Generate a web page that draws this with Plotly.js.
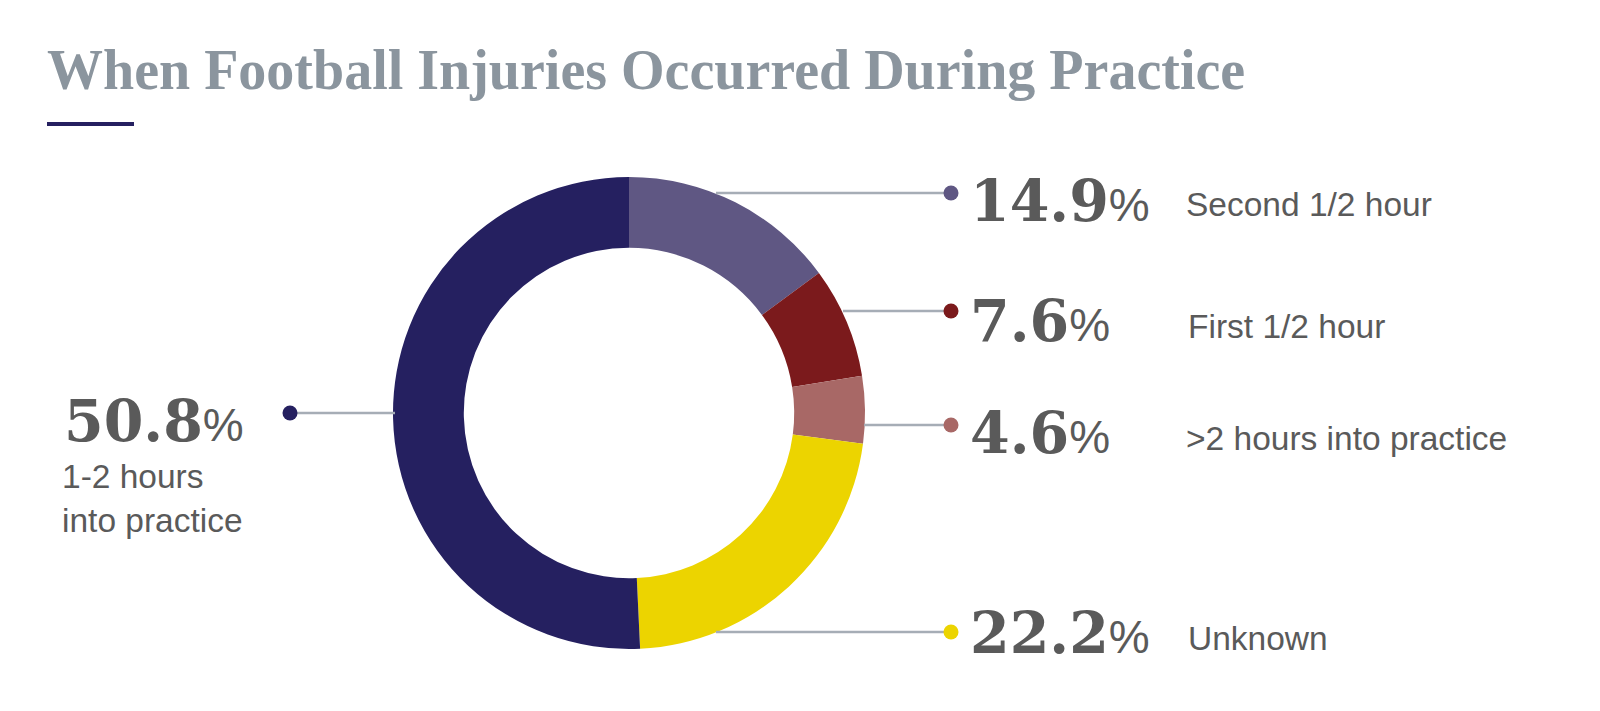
<!DOCTYPE html>
<html>
<head>
<meta charset="utf-8">
<script src="https://cdn.plot.ly/plotly-3.0.1.min.js"></script>
<style>
  html, body { margin: 0; padding: 0; background: #ffffff; }
  #chart { width: 1600px; height: 711px; }
</style>
</head>
<body>
<div id="chart"></div>
<script>
var W = 1600, H = 711;

// data, clockwise from 12 o'clock
var labels = ["Second 1/2 hour", "First 1/2 hour", ">2 hours into practice", "Unknown", "1-2 hours<br>into practice"];
var values = [14.9, 7.6, 4.6, 22.2, 50.8];
var colors = ["#5f5783", "#7b1a1c", "#a86866", "#ecd400", "#252060"];

// label placement (pixels): dot position, line start, number and text position
var dotX   = [951, 951, 951, 951, 290];
var dotY   = [193, 311, 425, 632, 413];
var lineX0 = [716, 843, 864, 716, 395];
var numX   = [968, 968, 968, 968, 62];
var numY   = [200, 320, 432, 632, 420];
var txtX   = [1184, 1186, 1184, 1186, 60];
var txtY   = [204, 326, 438, 638, 498];

function px(x) { return x / W; }
function py(y) { return 1 - y / H; }

var cx = 629, cy = 413, r = 236;

var trace = {
  type: "pie",
  labels: labels,
  values: values,
  marker: { colors: colors, line: { width: 0 } },
  hole: 0.70,
  sort: false,
  direction: "clockwise",
  rotation: 0,
  textinfo: "none",
  hoverinfo: "label+value",
  showlegend: false,
  domain: { x: [px(cx - r), px(cx + r)], y: [py(cy + r), py(cy - r)] }
};

var shapes = [
  // title underline
  { type: "rect", xref: "paper", yref: "paper",
    x0: px(47), x1: px(134), y0: py(126), y1: py(122),
    fillcolor: "#252060", line: { width: 0 } }
];
var annotations = [
  { xref: "paper", yref: "paper", x: px(45), y: py(70), xanchor: "left", yanchor: "middle",
    showarrow: false, text: "<b>When Football Injuries Occurred During Practice</b>",
    font: { family: "Liberation Serif, serif", size: 56, color: "#8b959e" } }
];

for (var i = 0; i < values.length; i++) {
  shapes.push({ type: "line", xref: "paper", yref: "paper",
    x0: px(lineX0[i]), x1: px(dotX[i]), y0: py(dotY[i]), y1: py(dotY[i]),
    line: { color: "#a6adb6", width: 2.5 } });
  shapes.push({ type: "circle", xref: "paper", yref: "paper",
    x0: px(dotX[i] - 7.5), x1: px(dotX[i] + 7.5), y0: py(dotY[i] + 7.5), y1: py(dotY[i] - 7.5),
    fillcolor: colors[i], line: { width: 0 } });
  annotations.push({ xref: "paper", yref: "paper", x: px(numX[i]), y: py(numY[i]),
    xanchor: "left", yanchor: "middle", showarrow: false,
    text: "<b>" + values[i].toFixed(1) + "</b><span style=\"font-family:Liberation Sans;font-size:46px\">%</span>",
    font: { family: "DejaVu Serif, serif", size: 57, color: "#5a5a5a" } });
  annotations.push({ xref: "paper", yref: "paper", x: px(txtX[i]), y: py(txtY[i]),
    xanchor: "left", yanchor: "middle", align: "left", showarrow: false,
    text: labels[i],
    font: { family: "Liberation Sans, Arial, sans-serif", size: 33.5, color: "#5a5a5a" } });
}

var layout = {
  width: W, height: H,
  margin: { l: 0, r: 0, t: 0, b: 0 },
  paper_bgcolor: "#ffffff",
  plot_bgcolor: "#ffffff",
  shapes: shapes,
  annotations: annotations
};

Plotly.newPlot("chart", [trace], layout, { displayModeBar: false, staticPlot: true });
</script>
</body>
</html>
